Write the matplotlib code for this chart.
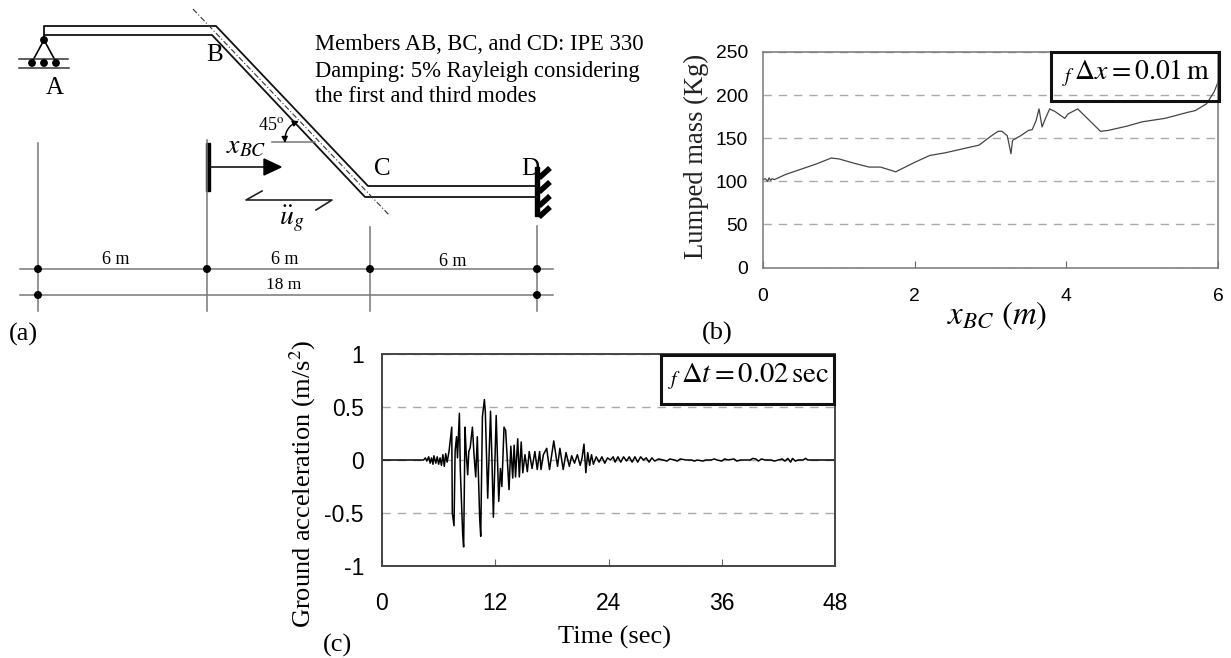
#!/usr/bin/env python
import matplotlib
matplotlib.use('Agg')
import matplotlib.pyplot as plt
from matplotlib.patches import Circle, Polygon, Rectangle

W, H = 1231, 658
SERIF = 'Liberation Serif'
SANS = 'Liberation Sans'
plt.rcParams['mathtext.fontset'] = 'stix'

# lumped mass curve, panel (b)
mass_x = [0, 0.03, 0.06, 0.08, 0.1, 0.12, 0.15, 0.3, 0.5, 0.7, 0.9, 1.0, 1.2, 1.4, 1.55, 1.75,
          2.0, 2.2, 2.4, 2.6, 2.85, 3.0, 3.1, 3.15, 3.22, 3.24, 3.27, 3.29, 3.3, 3.4, 3.5, 3.55,
          3.6, 3.64, 3.68, 3.72, 3.78, 3.85, 3.98, 4.02, 4.15, 4.3, 4.45, 4.55, 4.8, 5.0, 5.3,
          5.6, 5.7, 5.85, 5.95, 6.0]
mass_y = [102, 103, 100, 104, 101, 103, 102, 108, 114, 120, 127, 126, 121, 116.5, 116.5, 111,
          122, 130, 133, 137, 142, 152, 158, 158, 153, 145, 132, 147, 148, 153, 159, 160,
          170, 184, 163, 172, 184, 181, 173, 178, 184, 171, 158, 159, 164, 169, 173,
          180, 182, 190, 204, 215]

# ground acceleration record, panel (c), as (time, acceleration) pairs
acc_start = [(0, 0), (4.4, 0), (4.6, 0.02), (4.75, -0.01), (4.95, 0.03), (5.1, -0.03), (5.25, 0.02),
             (5.4, -0.04), (5.5, 0.04), (5.7, -0.03), (5.85, 0.03), (6.0, -0.04), (6.15, 0.02),
             (6.3, -0.05), (6.45, 0.05), (6.6, -0.06), (6.75, 0.06), (6.9, -0.02), (7.1, 0.08)]
acc_strong = [(7.39, 0.31), (7.45, -0.5), (7.63, -0.62), (7.75, 0.09), (7.9, 0.22), (8.0, 0.02),
              (8.2, 0.44), (8.3, -0.1), (8.55, -0.7), (8.65, -0.82), (8.8, 0.31), (8.9, 0.1),
              (9.08, -0.14), (9.2, 0.08), (9.35, 0.12), (9.58, 0.31), (9.75, 0.05), (9.93, -0.16),
              (10.1, 0.22), (10.35, -0.55), (10.46, -0.72), (10.64, 0.41), (10.85, 0.57),
              (10.95, 0.45), (11.2, -0.36), (11.5, 0.46), (11.65, 0.0), (11.8, -0.54), (12.1, 0.42),
              (12.37, -0.39), (12.55, -0.08), (12.7, -0.25), (12.93, 0.31), (13.1, 0.28),
              (13.46, -0.28), (13.65, 0.13), (13.85, -0.17), (14.0, 0.14), (14.15, -0.16),
              (14.38, 0.2), (14.55, -0.16), (14.75, 0.17), (14.92, -0.12), (15.15, 0.05),
              (15.4, -0.11), (15.6, 0.08), (15.9, -0.08), (16.2, 0.08), (16.45, -0.09),
              (16.7, 0.08), (16.85, -0.09), (17.1, 0.05), (17.45, 0.11), (17.75, -0.09),
              (18.2, 0.18), (18.6, -0.06), (18.85, 0.11), (19.2, -0.09), (19.5, 0.07), (19.85, -0.06)]
acc_decay = [(20.1, 0.04), (20.4, -0.03), (20.7, 0.05), (21.0, -0.05), (21.2, 0.02), (21.4, 0.15),
             (21.6, -0.12), (21.8, 0.07), (22.0, -0.05), (22.2, 0.05), (22.4, -0.04), (22.7, 0.03),
             (23.0, -0.02), (23.3, 0.03), (23.6, -0.03), (23.9, 0.02), (24.2, 0.0), (24.5, 0.03),
             (24.7, -0.02), (25.0, 0.03), (25.3, -0.02), (25.6, 0.03), (25.9, -0.01), (26.2, 0.03),
             (26.5, -0.02), (26.8, 0.03), (27.1, -0.02), (27.4, 0.03), (27.7, 0.0), (28.0, 0.02),
             (28.3, -0.02), (28.6, 0.02), (28.9, -0.01)]
acc_tail = [(29.3, 0.01), (29.8, 0), (30.2, -0.01), (30.5, 0.01), (31.0, 0), (31.3, -0.01), (31.6, 0.01),
            (32.2, 0), (32.8, 0), (33.1, -0.01), (33.4, 0), (34.0, -0.01), (34.3, 0), (34.9, 0),
            (35.2, 0.01), (35.5, 0), (36.0, -0.01), (36.3, 0.01), (36.7, 0), (37.3, 0.01), (37.6, -0.01),
            (38.0, 0), (39.0, 0), (39.3, 0.015), (39.6, 0.01), (39.9, -0.01), (40.2, 0.01), (40.6, 0),
            (41.2, 0), (41.6, -0.01), (42.0, 0), (42.4, 0.01), (42.7, -0.01), (43.0, 0.015),
            (43.3, -0.02), (43.5, 0.015), (43.8, -0.01), (44.1, 0), (44.6, 0), (44.9, 0.015), (45.1, 0), (48, 0)]
acc_points = acc_start + acc_strong + acc_decay + acc_tail
acc_t = [p[0] for p in acc_points]
acc_a = [p[1] for p in acc_points]

# frame geometry in picture pixels, panel (a)
beam_lines = [[(44, 40), (44, 26), (216, 26), (368, 186), (537, 186)],
              [(44, 35), (212, 35), (365, 197), (537, 197)]]
dim_lines = [[(38, 143), (38, 311)], [(207, 140), (207, 311)], [(370, 227), (370, 311)],
             [(537, 226), (537, 311)], [(20, 269), (553, 269)], [(20, 295), (553, 295)]]
dim_dots = [(38, 269), (207, 269), (370, 269), (537, 269), (38, 295), (537, 295)]
note_lines = ['Members AB, BC, and CD: IPE 330',
              'Damping: 5% Rayleigh considering',
              'the first and third modes']


def pixel_axes(fig, left, top, right, bottom):
    return fig.add_axes([left / W, 1 - bottom / H, (right - left) / W, (bottom - top) / H])


def style_panel(ax, color, width):
    for s in ax.spines.values():
        s.set_color(color)
        s.set_linewidth(width)
    ax.grid(axis='y', color='#aaaaaa', ls=(0, (6, 5)), lw=1.0)
    ax.set_axisbelow(True)
    ax.tick_params(axis='x', direction='in', length=5, color='#666666')
    ax.tick_params(axis='y', length=0)


def draw_frame(ax):
    for line in dim_lines:
        ax.plot(*zip(*line), color='#777777', lw=1.1)
    for x, y in dim_dots:
        ax.add_patch(Circle((x, y), 3.3, color='k', zorder=3))
    for line in beam_lines:
        ax.plot(*zip(*line), color='#111111', lw=1.3)
    ax.plot([193, 390], [9, 216], color='#333333', lw=0.8, ls=(0, (5, 2, 1, 2)))

    # pin and rollers at A
    ax.plot([32, 44, 56], [62, 40, 62], color='k', lw=1.2)
    ax.plot([19, 68], [59, 59], color='#333333', lw=1.1)
    ax.plot([19, 69], [68, 68], color='#333333', lw=1.1)
    for x, y in [(44, 40), (32, 63), (44, 63), (56, 63)]:
        ax.add_patch(Circle((x, y), 3.2, color='k', zorder=3))

    # fixed support at D
    ax.add_patch(Rectangle((535, 167), 4, 49, color='k'))
    for y in [178, 192, 206, 217]:
        ax.plot([539, 550], [y, y - 10], color='k', lw=4, solid_capstyle='butt')

    # position marker and arrow
    ax.add_patch(Rectangle((206, 143), 4, 48, color='k'))
    ax.plot([210, 268], [167, 167], color='k', lw=1.1)
    ax.add_patch(Polygon([(264, 159), (281, 167), (264, 175)], color='k'))

    # ground motion sign
    ax.plot([262, 246, 332, 316], [191, 200, 200, 210], color='#222222', lw=1.2)

    # 45 degree mark
    ax.plot([272, 315], [142, 142], color='#777777', lw=1.1)
    ax.annotate('', xy=(299, 121), xytext=(285, 143),
                arrowprops=dict(arrowstyle='<|-|>', connectionstyle='arc3,rad=-0.35', shrinkA=0,
                                shrinkB=0, color='k', lw=1.0, mutation_scale=9))

    ax.text(55, 88, 'A', family=SERIF, fontsize=18, ha='center', va='center')
    ax.text(215, 55, 'B', family=SERIF, fontsize=18, ha='center', va='center')
    ax.text(382, 169, 'C', family=SERIF, fontsize=18, ha='center', va='center')
    ax.text(530, 169, 'D', family=SERIF, fontsize=18, ha='center', va='center')
    ax.text(271, 125, '45$^{\\mathrm{o}}$', family=SERIF, fontsize=13, ha='center', va='center')
    ax.text(246, 145, r'$\mathit{x}_{\mathit{BC}}$', fontsize=20, ha='center', va='center')
    ax.text(292, 219, r'$\ddot{\mathit{u}}_{\mathit{g}}$', fontsize=20, ha='center', va='center')
    ax.text(116, 260, '6 m', family=SERIF, fontsize=13, ha='center', va='center')
    ax.text(285, 259, '6 m', family=SERIF, fontsize=13, ha='center', va='center')
    ax.text(453, 261, '6 m', family=SERIF, fontsize=13, ha='center', va='center')
    ax.text(284, 285, '18 m', family=SERIF, fontsize=12.5, ha='center', va='center')
    for y, line in zip([50, 77, 102], note_lines):
        ax.text(315, y, line, family=SERIF, fontsize=16.3, ha='left', va='baseline')
    ax.text(23, 334, '(a)', family=SERIF, fontsize=19, ha='center', va='center')
    ax.text(717, 333, '(b)', family=SERIF, fontsize=19, ha='center', va='center')
    ax.text(337, 645, '(c)', family=SERIF, fontsize=19, ha='center', va='center')


def note_box(ax, left, top, right, bottom, label, fontsize):
    ax.add_patch(Rectangle((left, top), right - left, bottom - top, facecolor='none',
                           edgecolor='#111111', lw=2.2, zorder=5))
    ax.text((left + right) / 2 + 1, (top + bottom) / 2 - 3, label, fontsize=fontsize, ha='center',
            va='center', zorder=6)


def main():
    fig = plt.figure(figsize=(W / 100, H / 100), dpi=100)

    # panel (b)
    ax_b = pixel_axes(fig, 763, 52, 1218, 267.5)
    ax_b.plot(mass_x, mass_y, color='#444444', lw=0.9)
    ax_b.set_xlim(0, 6)
    ax_b.set_ylim(0, 250)
    ax_b.set_xticks([0, 2, 4, 6])
    ax_b.set_yticks([0, 50, 100, 150, 200, 250])
    style_panel(ax_b, '#777777', 1.1)
    ax_b.tick_params(labelsize=13.9, pad=15)
    for t in ax_b.get_xticklabels() + ax_b.get_yticklabels():
        t.set_family(SANS)
    ax_b.tick_params(axis='y', pad=10.8)
    ax_b.set_ylabel('Lumped mass (Kg)', family=SERIF, fontsize=19.2, va='center', color='#222222')
    ax_b.yaxis.set_label_coords((696 - 763) / 455, (267.5 - 156) / 215.5)
    ax_b.set_xlabel(r'$\mathit{x}_{\mathit{BC}}\ \left(\mathit{m}\right)$', fontsize=23.7, va='center')
    ax_b.xaxis.set_label_coords((997 - 763) / 455, (267.5 - 316) / 215.5)

    # panel (c)
    ax_c = pixel_axes(fig, 382, 354, 835, 566)
    ax_c.plot(acc_t, acc_a, color='k', lw=1.1)
    ax_c.set_xlim(0, 48)
    ax_c.set_ylim(-1, 1)
    ax_c.set_xticks([0, 12, 24, 36, 48])
    ax_c.set_yticks([-1, -0.5, 0, 0.5, 1])
    ax_c.set_yticklabels(['-1', '-0.5', '0', '0.5', '1'])
    style_panel(ax_c, '#444444', 1.4)
    ax_c.tick_params(labelsize=16.5, pad=18.7)
    for t in ax_c.get_xticklabels() + ax_c.get_yticklabels():
        t.set_family(SANS)
    ax_c.tick_params(axis='y', pad=13)
    ax_c.set_ylabel('Ground acceleration (m/s$^2$)', family=SERIF, fontsize=19, va='center')
    ax_c.yaxis.set_label_coords((303 - 382) / 453, (566 - 484) / 212)
    ax_c.set_xlabel('Time (sec)', family=SERIF, fontsize=19, va='center')
    ax_c.xaxis.set_label_coords((614 - 382) / 453, (566 - 637) / 212)

    # overlay in picture pixels: frame diagram, boxes, panel letters
    ov = fig.add_axes([0, 0, 1, 1], facecolor='none')
    ov.set_xlim(0, W)
    ov.set_ylim(H, 0)
    ov.axis('off')
    draw_frame(ov)
    note_box(ov, 1051, 52, 1219, 101, r'$_{\mathit{f}}\,\Delta \mathit{x} = 0.01\,\mathrm{m}$', 20)
    note_box(ov, 661, 355, 834, 404, r'$_{\mathit{f}}\,\Delta \mathit{t} = 0.02\,\mathrm{sec}$', 20.6)

    fig.savefig('out.png', dpi=100)


if __name__ == '__main__':
    main()
